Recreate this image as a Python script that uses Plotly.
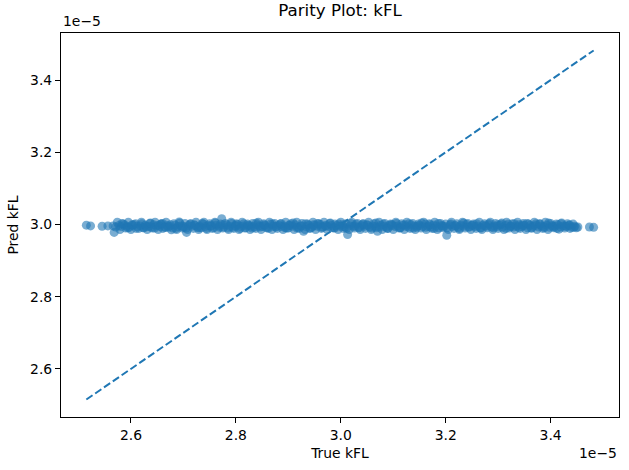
import plotly.graph_objects as go

# values in units of 1e-5
true_kfl = [
    2.515, 2.523, 2.545, 2.556, 2.568, 2.571, 2.577, 2.581, 2.588, 2.592,
    2.597, 2.603, 2.606, 2.612, 2.618, 2.623, 2.627, 2.634, 2.638, 2.643,
    2.649, 2.655, 2.658, 2.664, 2.669, 2.673, 2.680, 2.684, 2.689, 2.695,
    2.701, 2.706, 2.710, 2.716, 2.721, 2.727, 2.731, 2.736, 2.742, 2.747,
    2.752, 2.758, 2.762, 2.768, 2.773, 2.777, 2.783, 2.788, 2.794, 2.799,
    2.803, 2.809, 2.814, 2.819, 2.825, 2.829, 2.835, 2.840, 2.845, 2.851,
    2.855, 2.861, 2.866, 2.871, 2.876, 2.882, 2.887, 2.892, 2.897, 2.903,
    2.908, 2.913, 2.918, 2.924, 2.929, 2.934, 2.939, 2.945, 2.950, 2.955,
    2.961, 2.966, 2.971, 2.976, 2.982, 2.987, 2.992, 2.997, 3.003, 3.008,
    3.013, 3.018, 3.024, 3.029, 3.034, 3.040, 3.045, 3.050, 3.055, 3.061,
    3.066, 3.070, 3.076, 3.082, 3.087, 3.092, 3.097, 3.103, 3.108, 3.113,
    3.118, 3.124, 3.129, 3.134, 3.140, 3.145, 3.150, 3.156, 3.161, 3.166,
    3.171, 3.177, 3.182, 3.187, 3.192, 3.197, 3.202, 3.208, 3.213, 3.219,
    3.224, 3.229, 3.234, 3.240, 3.245, 3.250, 3.256, 3.261, 3.266, 3.271,
    3.277, 3.282, 3.287, 3.292, 3.298, 3.303, 3.308, 3.314, 3.319, 3.324,
    3.329, 3.335, 3.340, 3.345, 3.350, 3.356, 3.361, 3.366, 3.372, 3.377,
    3.382, 3.387, 3.393, 3.398, 3.403, 3.408, 3.414, 3.419, 3.424, 3.430,
    3.435, 3.440, 3.446, 3.452, 3.474, 3.482,
]

pred_kfl = [
    2.998, 2.996, 2.995, 2.996, 2.978, 2.993, 2.997, 2.994, 2.999, 2.995,
    2.992, 2.997, 3.000, 2.994, 2.996, 2.991, 2.998, 2.995, 2.993, 2.999,
    2.996, 2.994, 3.001, 2.992, 2.997, 2.995, 2.990, 2.998, 2.994, 2.996,
    2.993, 2.978, 2.997, 2.995, 2.999, 2.992, 2.996, 3.003, 2.994, 2.997,
    2.995, 2.991, 2.998, 2.996, 3.016, 2.993, 2.999, 2.995, 2.992, 2.997,
    3.000, 2.994, 2.996, 2.991, 2.998, 2.995, 2.993, 2.999, 2.996, 2.994,
    2.997, 2.992, 3.001, 2.995, 2.993, 2.998, 2.994, 2.996, 2.990, 2.997,
    2.995, 2.999, 2.993, 2.996, 2.981, 2.994, 2.998, 2.992, 2.997, 2.995,
    3.000, 2.993, 2.996, 2.994, 2.998, 2.991, 2.997, 2.995, 2.999, 2.993,
    2.972, 2.996, 2.994, 3.001, 2.992, 2.997, 2.995, 2.999, 2.993, 2.996,
    2.994, 2.981, 2.998, 2.995, 2.992, 2.997, 3.000, 2.994, 2.996, 2.991,
    2.998, 2.995, 2.993, 2.999, 2.996, 2.992, 2.997, 2.994, 3.001, 2.995,
    2.993, 2.998, 2.996, 2.991, 2.997, 2.995, 2.970, 2.999, 2.994, 2.996,
    2.992, 2.998, 2.995, 3.000, 2.993, 2.997, 2.994, 2.996, 2.991, 2.998,
    2.995, 2.999, 2.993, 2.996, 2.994, 2.998, 2.992, 2.997, 3.001, 2.995,
    2.993, 2.996, 2.999, 2.994, 2.997, 2.991, 2.998, 2.995, 3.002, 2.993,
    2.996, 2.994, 2.998, 2.992, 2.997, 2.995, 2.999, 2.993, 2.996, 2.994,
    2.997, 2.992, 2.995, 2.993, 2.993, 2.992,
]

# second group of samples
true_kfl_b = [
    2.574, 2.579, 2.585, 2.590, 2.595, 2.600, 2.609, 2.615, 2.620, 2.625,
    2.631, 2.636, 2.641, 2.646, 2.652, 2.657, 2.661, 2.667, 2.671, 2.677,
    2.682, 2.687, 2.692, 2.698, 2.703, 2.708, 2.713, 2.719, 2.724, 2.729,
    2.734, 2.739, 2.745, 2.750, 2.755, 2.760, 2.765, 2.771, 2.775, 2.780,
    2.786, 2.791, 2.796, 2.801, 2.806, 2.812, 2.817, 2.822, 2.827, 2.832,
    2.838, 2.843, 2.848, 2.853, 2.858, 2.864, 2.869, 2.874, 2.879, 2.885,
    2.890, 2.895, 2.900, 2.905, 2.911, 2.916, 2.921, 2.926, 2.932, 2.937,
    2.942, 2.947, 2.952, 2.958, 2.963, 2.968, 2.974, 2.979, 2.984, 2.989,
    2.995, 3.000, 3.005, 3.010, 3.016, 3.021, 3.026, 3.032, 3.037, 3.042,
    3.047, 3.053, 3.058, 3.063, 3.068, 3.073, 3.079, 3.084, 3.090, 3.095,
    3.100, 3.105, 3.111, 3.116, 3.121, 3.126, 3.132, 3.137, 3.142, 3.148,
    3.153, 3.158, 3.163, 3.169, 3.174, 3.179, 3.184, 3.190, 3.195, 3.200,
    3.205, 3.211, 3.216, 3.221, 3.226, 3.232, 3.237, 3.242, 3.248, 3.253,
    3.258, 3.264, 3.269, 3.274, 3.279, 3.285, 3.290, 3.295, 3.300, 3.306,
    3.311, 3.316, 3.321, 3.327, 3.332, 3.337, 3.342, 3.348, 3.353, 3.358,
    3.364, 3.369, 3.374, 3.379, 3.385, 3.390, 3.395, 3.400, 3.406, 3.411,
    3.416, 3.421, 3.427, 3.432, 3.437, 3.443, 3.449,
]

pred_kfl_b = [
    3.006, 2.986, 3.001, 2.990, 3.006, 2.986, 3.002, 2.989, 3.006, 2.991,
    2.986, 3.003, 2.990, 3.006, 2.986, 3.001, 2.989, 3.006, 2.992, 2.985,
    3.002, 2.986, 3.007, 2.990, 3.003, 2.986, 3.001, 2.989, 3.006, 2.986,
    2.991, 3.006, 2.986, 3.002, 2.989, 3.006, 2.986, 3.001, 2.990, 3.003,
    2.986, 3.006, 2.989, 3.002, 2.986, 3.006, 2.990, 3.001, 2.986, 3.003,
    2.989, 3.006, 2.986, 3.002, 2.991, 3.006, 2.986, 3.003, 2.989, 3.001,
    2.986, 3.006, 2.990, 3.002, 2.986, 3.006, 2.989, 3.003, 2.986, 3.001,
    2.990, 3.006, 2.986, 3.002, 2.989, 3.006, 2.986, 3.003, 2.991, 3.001,
    2.986, 3.006, 2.989, 3.002, 2.986, 3.006, 2.990, 3.003, 2.986, 3.001,
    2.989, 3.006, 2.986, 3.002, 2.991, 3.006, 2.986, 3.003, 2.989, 3.001,
    2.986, 3.006, 2.990, 3.002, 2.986, 3.006, 2.989, 3.003, 2.986, 3.001,
    2.990, 3.006, 2.986, 3.002, 2.989, 3.006, 2.986, 3.003, 2.991, 3.001,
    2.986, 3.006, 2.989, 3.002, 2.986, 3.006, 2.990, 3.003, 2.986, 3.001,
    2.989, 3.006, 2.986, 3.002, 2.991, 3.006, 2.986, 3.003, 2.989, 3.001,
    2.986, 3.006, 2.990, 3.002, 2.986, 3.006, 2.989, 3.003, 2.986, 3.001,
    2.990, 3.006, 2.986, 3.002, 2.989, 3.006, 2.986, 3.003, 2.991, 3.001,
    2.987, 3.004, 2.990, 3.002, 2.989, 3.001, 2.991,
]

# third group of samples
true_kfl_c = [
    2.566, 2.583, 2.594, 2.602, 2.610, 2.621, 2.629, 2.637, 2.645, 2.653,
    2.660, 2.666, 2.675, 2.686, 2.693, 2.699, 2.705, 2.714, 2.722, 2.730,
    2.738, 2.744, 2.753, 2.761, 2.769, 2.776, 2.785, 2.792, 2.800, 2.808,
    2.815, 2.823, 2.831, 2.839, 2.846, 2.854, 2.862, 2.870, 2.878, 2.886,
    2.894, 2.901, 2.909, 2.917, 2.925, 2.933, 2.941, 2.948, 2.956, 2.964,
    2.972, 2.980, 2.988, 2.996, 3.004, 3.011, 3.019, 3.027, 3.035, 3.043,
    3.051, 3.059, 3.067, 3.074, 3.081, 3.089, 3.098, 3.106, 3.114, 3.122,
    3.130, 3.138, 3.146, 3.154, 3.162, 3.170, 3.178, 3.186, 3.194, 3.203,
    3.210, 3.218, 3.226, 3.234, 3.243, 3.251, 3.259, 3.267, 3.275, 3.283,
    3.291, 3.299, 3.307, 3.315, 3.323, 3.331, 3.339, 3.347, 3.355, 3.363,
    3.371, 3.380, 3.388, 3.396, 3.404, 3.412, 3.420, 3.428, 3.436, 3.444,
]

pred_kfl_c = [
    2.996, 3.003, 2.991, 2.999, 2.989, 3.002, 2.994, 3.004, 2.990, 2.998,
    3.003, 2.992, 2.999, 2.989, 3.004, 2.995, 2.990, 3.002, 2.997, 2.991,
    3.001, 2.989, 2.997, 3.004, 2.992, 2.999, 2.990, 3.003, 2.995, 2.989,
    3.002, 2.996, 2.990, 3.004, 2.993, 2.999, 2.989, 3.001, 2.995, 3.003,
    2.991, 2.998, 3.004, 2.990, 2.996, 3.002, 2.989, 2.999, 3.003, 2.992,
    2.997, 3.004, 2.990, 3.001, 2.994, 2.989, 3.003, 2.996, 2.991, 3.002,
    2.998, 2.990, 3.004, 2.993, 3.001, 2.989, 2.997, 3.003, 2.991, 2.999,
    3.002, 2.990, 2.996, 3.004, 2.992, 2.999, 2.989, 3.003, 2.995, 2.991,
    3.001, 2.997, 2.989, 3.004, 2.993, 2.998, 3.002, 2.990, 2.996, 3.003,
    2.991, 2.999, 3.004, 2.989, 2.995, 3.002, 2.992, 2.998, 3.003, 2.990,
    2.997, 3.001, 2.991, 3.004, 2.994, 2.989, 3.002, 2.996, 2.999, 2.992,
]

tick_vals = [2.6, 2.8, 3.0, 3.2, 3.4]
tick_text = ["2.6", "2.8", "3.0", "3.2", "3.4"]

all_true = true_kfl + true_kfl_b + true_kfl_c
all_pred = pred_kfl + pred_kfl_b + pred_kfl_c

lo = min(min(all_true), min(all_pred))
hi = max(max(all_true), max(all_pred))
pad = 0.05 * (hi - lo)
rng = [lo - pad, hi + pad]

blue = "#1f77b4"
font = "DejaVu Sans"

fig = go.Figure()
fig.add_trace(go.Scatter(
    x=all_true, y=all_pred, mode="markers",
    marker=dict(color=blue, size=9, opacity=0.6, line=dict(width=0)),
    showlegend=False, hoverinfo="skip",
))
fig.add_trace(go.Scatter(
    x=[lo, hi], y=[lo, hi], mode="lines",
    line=dict(color=blue, width=2, dash="7.5px,3.2px"),
    showlegend=False, hoverinfo="skip",
))

axis_common = dict(
    range=rng, tickvals=tick_vals, ticktext=tick_text,
    showgrid=False, zeroline=False, automargin=False,
    showline=True, linecolor="black", linewidth=1.1, mirror=True,
    ticks="outside", ticklen=5, tickwidth=1.1, tickcolor="black",
    tickfont=dict(family=font, size=13.9, color="black"),
)

fig.update_layout(
    width=629, height=470,
    margin=dict(l=61, r=10, t=33, b=53),
    paper_bgcolor="white", plot_bgcolor="white",
    font=dict(family=font, color="black"),
    title=dict(text="Parity Plot: kFL", x=0.5, xref="paper", xanchor="center",
               y=1, yref="container", yanchor="top", pad=dict(t=4),
               font=dict(family=font, size=16.7, color="black")),
    xaxis=dict(axis_common, title=dict(text="True kFL", standoff=6,
                                       font=dict(family=font, size=13.9))),
    yaxis=dict(axis_common, title=dict(text="Pred kFL", standoff=8,
                                       font=dict(family=font, size=13.9))),
    annotations=[
        dict(text="1e\u22125", xref="paper", yref="paper", x=0, y=1,
             xanchor="left", yanchor="bottom", yshift=2, showarrow=False,
             font=dict(family=font, size=13.9, color="black")),
        dict(text="1e\u22125", xref="paper", yref="paper", x=1, y=0,
             xanchor="right", yanchor="top", yshift=-26, showarrow=False,
             font=dict(family=font, size=13.9, color="black")),
    ],
)

fig.write_html("out.html", config={"displayModeBar": False},
               post_script="document.body.style.margin='0';document.body.style.padding='0';")
